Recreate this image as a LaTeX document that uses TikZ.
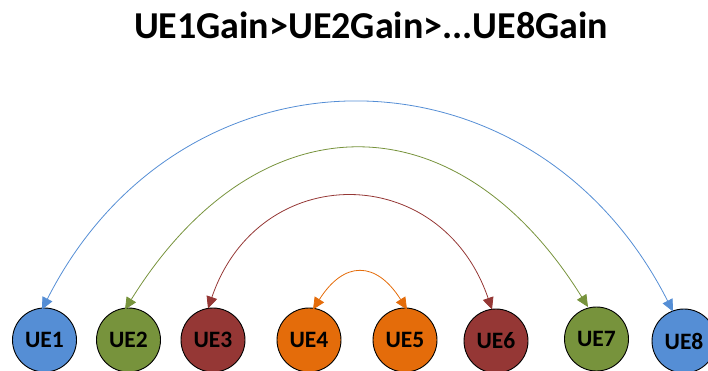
\documentclass[tikz,border=0pt]{standalone}
\usepackage{fontspec}
\setmainfont{Carlito}
\usetikzlibrary{arrows.meta}

\definecolor{ueblue}{HTML}{558ED5}
\definecolor{uegreen}{HTML}{77933C}
\definecolor{uered}{HTML}{953735}
\definecolor{ueorange}{HTML}{E46C0A}

\tikzset{
  ue/.style={circle, draw=black, line width=0.9pt, minimum size=64pt,
             inner sep=0pt, font=\fontsize{23.5}{26}\selectfont\bfseries},
  pair/.style={line width=0.8pt, {Triangle[length=12pt,width=11pt]}-{Triangle[length=12pt,width=11pt]}},
}

\begin{document}
\begin{tikzpicture}[x=1pt, y=-1pt]
  \useasboundingbox (0,0) rectangle (708,371);

  % heading
  \node[anchor=base, font=\fontsize{38}{42}\selectfont\bfseries] (title) at (371,39)
    {UE1Gain>UE2Gain>...UE8Gain};

  % users, ordered by gain
  \node[ue, fill=ueblue]   (ue1) at (44.5,340) {UE1};
  \node[ue, fill=uegreen]  (ue2) at (128.5,340) {UE2};
  \node[ue, fill=uered]    (ue3) at (213,340) {UE3};
  \node[ue, fill=ueorange] (ue4) at (309,340) {UE4};
  \node[ue, fill=ueorange] (ue5) at (405,340) {UE5};
  \node[ue, fill=uered]    (ue6) at (496,341) {UE6};
  \node[ue, fill=uegreen]  (ue7) at (596.5,339) {UE7};
  \node[ue, fill=ueblue]   (ue8) at (684,341) {UE8};

  % pairings: strongest with weakest, working inwards
  \draw[pair, ueblue]
    ([xshift=-2.5pt,yshift=-2pt]ue1.north) .. controls +(140,-276) and +(-140,-276) ..
    ([xshift=-11pt,yshift=-3pt]ue8.north);
  \draw[pair, uegreen]
    ([xshift=-3.5pt,yshift=-2pt]ue2.north) .. controls +(132,-212) and +(-132,-212) ..
    ([xshift=-8.5pt,yshift=-0.5pt]ue7.north);
  \draw[pair, uered]
    ([xshift=-5pt,yshift=-1pt]ue3.north) .. controls +(51,-149) and +(-51,-149) ..
    ([xshift=-4pt,yshift=-1pt]ue6.north);
  \draw[pair, ueorange]
    ([xshift=4pt,yshift=-2pt]ue4.north) .. controls +(31,-49) and +(-31,-49) ..
    ([xshift=2pt,yshift=-2pt]ue5.north);
\end{tikzpicture}
\end{document}
